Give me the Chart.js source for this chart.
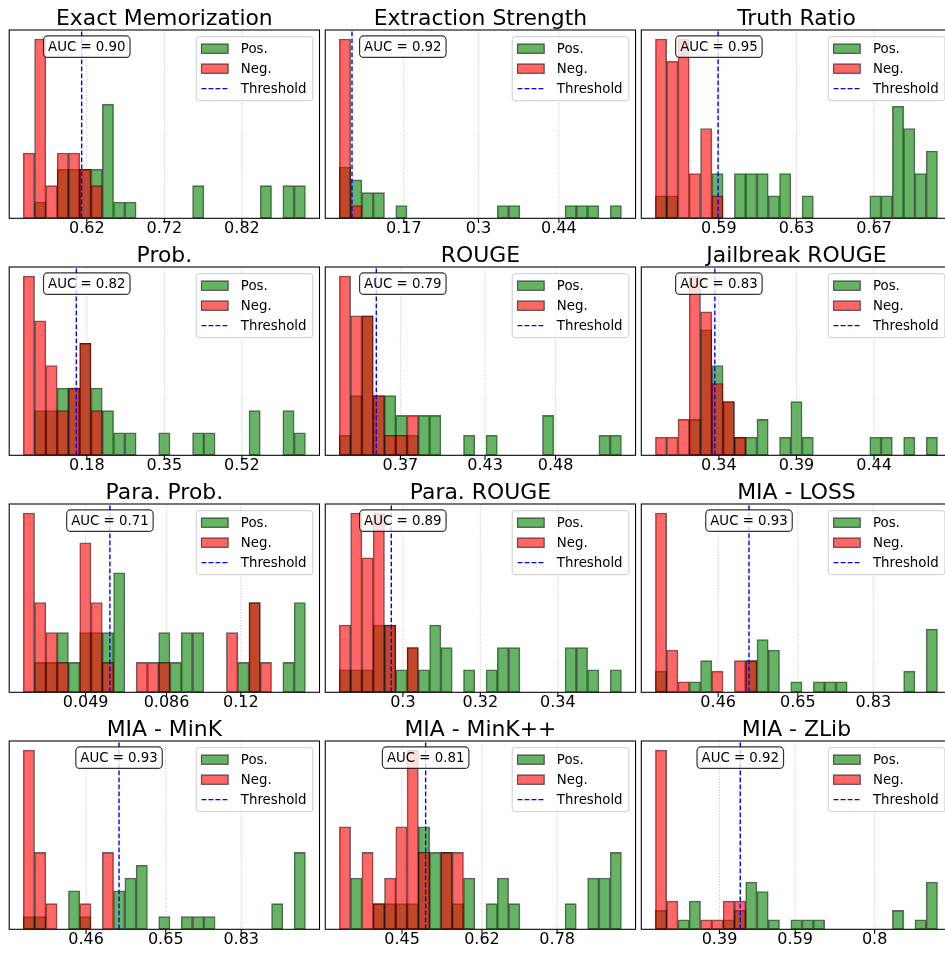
<!DOCTYPE html>
<html lang="en">
<head>
<meta charset="UTF-8">
<title>Pos. / Neg. histograms</title>
<style>
    html, body {
        margin: 0;
        padding: 0;
        background: #fff;
        overflow: hidden;
    }

    #grid {
        position: relative;
        width: 945px;
        height: 953px;
        overflow: hidden;
    }

    .panel {
        position: absolute;
    }
</style>
</head>
<body>
<div id="grid"></div>

<script src="https://cdn.jsdelivr.net/npm/chart.js"></script>
<script>
// one entry per panel, row by row
const titles = ['Exact Memorization', 'Extraction Strength', 'Truth Ratio',
                'Prob.', 'ROUGE', 'Jailbreak ROUGE',
                'Para. Prob.', 'Para. ROUGE', 'MIA - LOSS',
                'MIA - MinK', 'MIA - MinK++', 'MIA - ZLib'];

const aucs = [0.90, 0.92, 0.95, 0.82, 0.79, 0.83, 0.71, 0.89, 0.93, 0.93, 0.81, 0.92];

const thresholds = [0.6134, 0.0799, 0.5896, 0.1571, 0.3529, 0.3374,
                    0.0601, 0.2970, 0.5335, 0.5386, 0.5002, 0.4449];

// first / last histogram bin edge of each panel (25 bins between them)
const binLo = [0.5382, 0.0579, 0.5573, 0.0409, 0.3267, 0.2991,
               0.0205, 0.2836, 0.3103, 0.3103, 0.3167, 0.2206];
const binHi = [0.9018, 0.5488, 0.7027, 0.6591, 0.5267, 0.4809,
               0.1495, 0.3564, 0.9830, 0.9830, 0.9167, 0.9661];

const tickVals = [[0.62, 0.72, 0.82], [0.17, 0.3, 0.44], [0.59, 0.63, 0.67],
                  [0.18, 0.35, 0.52], [0.37, 0.43, 0.48], [0.34, 0.39, 0.44],
                  [0.049, 0.086, 0.12], [0.3, 0.32, 0.34], [0.46, 0.65, 0.83],
                  [0.46, 0.65, 0.83], [0.45, 0.62, 0.78], [0.39, 0.59, 0.8]];

const posCounts = [
    [0,1,0,3,3,3,3,7,1,1,0,0,0,0,0,2,0,0,0,0,0,2,0,2,2],
    [4,3,2,2,0,1,0,0,0,0,0,0,0,0,1,1,0,0,0,0,1,1,1,0,1],
    [1,1,0,0,0,2,0,2,2,2,1,2,0,1,0,0,0,0,0,1,1,5,4,2,3],
    [0,2,2,3,3,5,3,2,1,1,0,0,1,0,0,1,1,0,0,0,2,0,0,2,1],
    [1,3,7,3,3,2,1,2,2,0,0,1,0,1,0,0,0,0,2,0,0,0,0,1,1],
    [0,0,0,2,7,5,3,1,1,2,0,1,3,1,0,0,0,0,0,1,1,0,1,0,1],
    [0,1,1,2,1,2,2,2,4,0,0,0,2,1,2,2,0,0,0,1,3,0,0,1,3],
    [1,1,1,3,3,1,2,1,3,2,0,1,0,1,2,2,0,0,0,0,2,2,1,0,1],
    [2,0,0,1,3,0,0,0,3,5,4,0,1,0,1,1,1,0,0,0,0,0,2,0,6],
    [1,1,0,0,3,1,0,0,3,4,5,0,1,0,1,1,1,0,0,0,0,0,2,0,6],
    [0,2,0,1,1,1,1,4,3,3,1,2,0,1,2,1,0,0,0,0,1,0,2,2,3],
    [2,0,1,3,0,0,1,2,5,4,1,0,1,1,1,0,0,0,0,0,0,2,0,1,5]
];

const negCounts = [
    [4,11,2,4,4,3,2,0,0,0,0,0,0,0,0,0,0,0,0,0,0,0,0,0,0],
    [14,1,0,0,0,0,0,0,0,0,0,0,0,0,0,0,0,0,0,0,0,0,0,0,0],
    [8,7,8,2,4,1,0,0,0,0,0,0,0,0,0,0,0,0,0,0,0,0,0,0,0],
    [8,6,4,2,3,5,2,0,0,0,0,0,0,0,0,0,0,0,0,0,0,0,0,0,0],
    [9,7,7,3,1,1,2,0,0,0,0,0,0,0,0,0,0,0,0,0,0,0,0,0,0],
    [1,1,2,10,8,4,3,1,0,0,0,0,0,0,0,0,0,0,0,0,0,0,0,0,0],
    [6,3,2,1,0,5,3,1,0,0,1,1,1,0,0,0,0,0,2,0,3,1,0,0,0],
    [3,8,6,8,3,0,2,0,0,0,0,0,0,0,0,0,0,0,0,0,0,0,0,0,0],
    [17,4,1,0,0,2,0,3,3,0,0,0,0,0,0,0,0,0,0,0,0,0,0,0,0],
    [14,6,2,0,0,2,0,6,0,0,0,0,0,0,0,0,0,0,0,0,0,0,0,0,0],
    [4,0,3,1,2,4,7,3,0,3,3,0,0,0,0,0,0,0,0,0,0,0,0,0,0],
    [19,3,0,0,1,1,3,3,0,0,0,0,0,0,0,0,0,0,0,0,0,0,0,0,0]
];

// page geometry (plot frames of the 4x3 grid)
const AX_LEFT = 9.2, COL_STEP = 316.05, AX_W = 310.3;
const AX_TOP = 30, ROW_STEP = 237, AX_H = 188.3;
const CV_W = 332, CV_H = 254, TITLE_SPACE = 40;
const TITLE_SIZE = 21.9;

const FONT = '"DejaVu Sans", sans-serif';
const FS = 13.33;   // legend / annotation size

function roundRect(ctx, x, y, w, h, r) {
    ctx.beginPath();
    ctx.moveTo(x + r, y);
    ctx.arcTo(x + w, y, x + w, y + h, r);
    ctx.arcTo(x + w, y + h, x, y + h, r);
    ctx.arcTo(x, y + h, x, y, r);
    ctx.arcTo(x, y, x + w, y, r);
    ctx.closePath();
}

// grid, frame, AUC box and legend drawn the matplotlib way
const panelDecor = {
    id: 'panelDecor',
    afterDatasetDraw(chart, args) {
        // grid sits above the bars but below the threshold line
        if (args.index !== 1) return;
        const ctx = chart.ctx, a = chart.chartArea, x = chart.scales.x;
        ctx.save();
        ctx.strokeStyle = 'rgba(120,120,120,0.6)';
        ctx.lineWidth = 0.8;
        ctx.setLineDash([1, 1.7]);
        x.ticks.forEach(t => {
            const px = x.getPixelForValue(t.value);
            ctx.beginPath();
            ctx.moveTo(px, a.top);
            ctx.lineTo(px, a.bottom);
            ctx.stroke();
        });
        ctx.restore();
    },
    afterDraw(chart, args, opts) {
        const ctx = chart.ctx, a = chart.chartArea, x = chart.scales.x;
        const w = a.right - a.left;
        ctx.save();

        // frame and tick marks
        ctx.strokeStyle = '#000';
        ctx.lineWidth = 1.07;
        ctx.strokeRect(a.left, a.top, w, a.bottom - a.top);
        x.ticks.forEach(t => {
            const px = x.getPixelForValue(t.value);
            ctx.beginPath();
            ctx.moveTo(px, a.bottom);
            ctx.lineTo(px, a.bottom + 4.7);
            ctx.stroke();
        });

        // AUC annotation
        ctx.font = FS + 'px ' + FONT;
        const txt = 'AUC = ' + opts.auc.toFixed(2);
        const tw = ctx.measureText(txt).width;
        const cx = Math.max(x.getPixelForValue(opts.threshold), a.left + 0.25 * w);
        const cy = a.top + 16.7;
        const bw = tw + 9, bh = 21.5;
        roundRect(ctx, cx - bw / 2, cy - bh / 2, bw, bh, 4);
        ctx.fillStyle = 'rgba(255,255,255,0.8)';
        ctx.fill();
        ctx.strokeStyle = 'rgba(0,0,0,0.8)';
        ctx.lineWidth = 1.2;
        ctx.stroke();
        ctx.fillStyle = '#000';
        ctx.textAlign = 'center';
        ctx.textBaseline = 'middle';
        ctx.fillText(txt, cx, cy + 0.5);

        // legend, upper right
        const sets = chart.data.datasets;
        const textW = Math.max(...sets.map(d => ctx.measureText(d.label).width));
        const bp = 0.4 * FS, hl = 2 * FS, hh = 0.7 * FS, htp = 0.8 * FS, ls = 0.5 * FS, bap = 0.5 * FS;
        const lw = 2 * bp + hl + htp + textW + 3;
        const lh = 2 * bp + 3 * FS + 2 * ls;
        const lx = a.right - bap - lw, ly = a.top + bap;
        roundRect(ctx, lx, ly, lw, lh, 0.2 * FS);
        ctx.fillStyle = 'rgba(255,255,255,0.8)';
        ctx.fill();
        ctx.strokeStyle = '#cccccc';
        ctx.lineWidth = 1;
        ctx.stroke();

        ctx.textAlign = 'left';
        sets.forEach((d, k) => {
            const rowY = ly + bp + FS / 2 + k * (FS + ls);
            const hx = lx + bp;
            if (d.type === 'line') {
                ctx.strokeStyle = d.borderColor;
                ctx.lineWidth = d.borderWidth;
                ctx.setLineDash(d.borderDash);
                ctx.beginPath();
                ctx.moveTo(hx, rowY);
                ctx.lineTo(hx + hl, rowY);
                ctx.stroke();
                ctx.setLineDash([]);
            } else {
                ctx.fillStyle = d.backgroundColor;
                ctx.fillRect(hx, rowY - hh / 2, hl, hh);
                ctx.strokeStyle = d.borderColor;
                ctx.lineWidth = 1.2;
                ctx.strokeRect(hx, rowY - hh / 2, hl, hh);
            }
            ctx.fillStyle = '#000';
            ctx.fillText(d.label, hx + hl + htp + 2, rowY + 0.5);
        });

        ctx.restore();
    }
};

const grid = document.getElementById('grid');

titles.forEach((title, i) => {
    const col = i % 3, row = Math.floor(i / 3);
    const axLeft = AX_LEFT + col * COL_STEP;
    const axTop = AX_TOP + row * ROW_STEP;
    const cvLeft = Math.floor(axLeft) - 10;
    const padL = axLeft - cvLeft;

    const canvas = document.createElement('canvas');
    canvas.className = 'panel';
    canvas.width = CV_W;
    canvas.height = CV_H;
    canvas.style.width = CV_W + 'px';
    canvas.style.height = CV_H + 'px';
    canvas.style.left = cvLeft + 'px';
    canvas.style.top = (axTop - TITLE_SPACE) + 'px';
    grid.appendChild(canvas);

    const lo = binLo[i], hi = binHi[i];
    const n = posCounts[i].length;
    const step = (hi - lo) / n;
    const centers = posCounts[i].map((_, k) => lo + (k + 0.5) * step);
    const ymax = 1.05 * Math.max(...posCounts[i], ...negCounts[i]);
    const margin = 0.05 * (hi - lo);
    const ticks = tickVals[i];

    const barStyle = {
        borderColor: 'rgba(0,0,0,0.6)',
        borderWidth: 0.9,
        borderSkipped: false,
        grouped: false,
        barPercentage: 1.0,
        categoryPercentage: 1.0
    };

    new Chart(canvas, {
        type: 'bar',
        data: {
            datasets: [
                Object.assign({
                    label: 'Pos.',
                    data: centers.map((c, k) => ({ x: c, y: posCounts[i][k] || null })),
                    backgroundColor: 'rgba(0,128,0,0.6)',
                    order: 2
                }, barStyle),
                Object.assign({
                    label: 'Neg.',
                    data: centers.map((c, k) => ({ x: c, y: negCounts[i][k] || null })),
                    backgroundColor: 'rgba(255,0,0,0.6)',
                    order: 1
                }, barStyle),
                {
                    type: 'line',
                    label: 'Threshold',
                    data: [{ x: thresholds[i], y: 0 }, { x: thresholds[i], y: ymax }],
                    borderColor: 'blue',
                    borderWidth: 1.4,
                    borderDash: [4.9, 2.1],
                    pointRadius: 0,
                    fill: false,
                    order: 0
                }
            ]
        },
        options: {
            responsive: false,
            animation: false,
            events: [],
            layout: {
                padding: {
                    left: padL,
                    right: CV_W - padL - AX_W,
                    top: TITLE_SPACE - 10 - TITLE_SIZE,
                    bottom: CV_H - TITLE_SPACE - AX_H - 22
                }
            },
            scales: {
                x: {
                    type: 'linear',
                    min: lo - margin,
                    max: hi + margin,
                    offset: false,
                    afterBuildTicks: scale => {
                        scale.ticks = ticks.map(v => ({ value: v }));
                    },
                    ticks: {
                        color: '#000',
                        padding: 3,
                        maxRotation: 0,
                        autoSkip: false,
                        font: { family: FONT, size: 16, lineHeight: 1 },
                        callback: v => Number(v.toPrecision(2)).toString()
                    },
                    grid: { display: false, drawTicks: false },
                    border: { display: false }
                },
                y: {
                    display: false,
                    min: 0,
                    max: ymax
                }
            },
            plugins: {
                legend: { display: false },
                tooltip: { enabled: false },
                title: {
                    display: true,
                    text: title,
                    color: '#000',
                    padding: { top: 10, bottom: 0 },
                    font: { family: FONT, size: TITLE_SIZE, weight: 'normal', lineHeight: 1 }
                },
                panelDecor: { auc: aucs[i], threshold: thresholds[i] }
            }
        },
        plugins: [panelDecor]
    });
});
</script>
</body>
</html>
